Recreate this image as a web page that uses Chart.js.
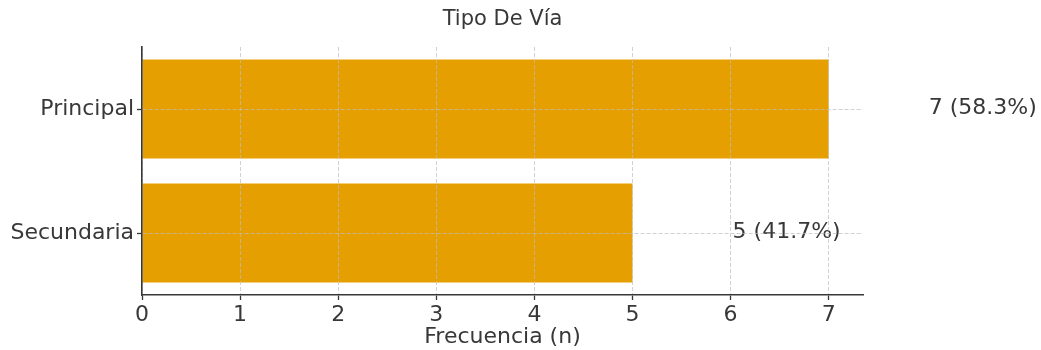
<!DOCTYPE html>
<html>
<head>
<meta charset="utf-8">
<script src="https://cdn.jsdelivr.net/npm/chart.js@4"></script>
<style>
  html, body { margin: 0; padding: 0; background: #ffffff; }
  #wrap { width: 1041px; height: 350px; }
</style>
</head>
<body>
<div id="wrap"><canvas id="c" width="1041" height="350"></canvas></div>
<script>
// Road type frequencies
const categories = ['Principal', 'Secundaria'];
const counts = [7, 5];
const xTickValues = [0, 1, 2, 3, 4, 5, 6, 7];
const chartTitle = 'Tipo De Vía';
const xAxisTitle = 'Frecuencia (n)';

const total = counts.reduce((a, b) => a + b, 0);
const valueLabels = counts.map(v => v + ' (' + (v / total * 100).toFixed(1) + '%)');

const FONT = 'DejaVu Sans';
const TEXT = '#383838';
const GRID = 'rgba(190,190,190,0.7)';

// Title centred over the plot area
const titlePlugin = {
  id: 'plotTitle',
  afterDraw(chart) {
    const { ctx, chartArea } = chart;
    ctx.save();
    ctx.font = '21px "' + FONT + '"';
    ctx.fillStyle = TEXT;
    ctx.textAlign = 'center';
    ctx.textBaseline = 'middle';
    ctx.fillText(chartTitle, (chartArea.left + chartArea.right) / 2, 20);
    ctx.restore();
  }
};

// "n (p%)" annotations placed one unit beyond each bar end
const valueLabelPlugin = {
  id: 'valueLabels',
  afterDatasetsDraw(chart) {
    const { ctx, scales } = chart;
    const meta = chart.getDatasetMeta(0);
    ctx.save();
    ctx.font = '22px "' + FONT + '"';
    ctx.fillStyle = TEXT;
    ctx.textAlign = 'left';
    ctx.textBaseline = 'middle';
    meta.data.forEach((bar, i) => {
      const x = scales.x.getPixelForValue(counts[i] + 1) + 2;
      ctx.fillText(valueLabels[i], x, bar.y - 1);
    });
    ctx.restore();
  }
};

new Chart(document.getElementById('c'), {
  type: 'bar',
  data: {
    labels: categories,
    datasets: [{
      data: counts,
      backgroundColor: '#E69F00',
      borderWidth: 0,
      barPercentage: 0.8,
      categoryPercentage: 1.0
    }]
  },
  options: {
    indexAxis: 'y',
    responsive: false,
    devicePixelRatio: 1,
    animation: false,
    layout: { padding: { left: 0, right: 178, top: 47, bottom: 0 } },
    plugins: {
      legend: { display: false },
      tooltip: { enabled: false },
      title: { display: false }
    },
    scales: {
      x: {
        type: 'linear',
        min: 0,
        max: 7.35,
        afterBuildTicks(scale) {
          scale.ticks = xTickValues.map(v => ({ value: v }));
        },
        afterFit(scale) { scale.height = 55; },
        ticks: {
          color: TEXT,
          font: { family: FONT, size: 22 },
          padding: 2,
          maxRotation: 0,
          autoSkip: false
        },
        grid: {
          color: GRID,
          lineWidth: 1,
          z: 1,
          tickLength: 5,
          tickColor: TEXT,
          tickWidth: 1.3,
          tickBorderDash: []
        },
        border: { display: true, color: TEXT, width: 1.6, dash: [4, 2], z: 2 },
        title: {
          display: true,
          text: xAxisTitle,
          color: TEXT,
          font: { family: FONT, size: 22 },
          padding: { top: 0, bottom: 0 }
        }
      },
      y: {
        type: 'category',
        offset: true,
        afterFit(scale) { scale.width = 142; },
        ticks: {
          color: TEXT,
          font: { family: FONT, size: 22 },
          padding: 3
        },
        grid: {
          offset: false,
          color: GRID,
          lineWidth: 1,
          z: 1,
          tickLength: 5,
          tickColor: TEXT,
          tickWidth: 1.3,
          tickBorderDash: []
        },
        border: { display: true, color: TEXT, width: 1.6, dash: [4, 2], z: 2 }
      }
    }
  },
  plugins: [titlePlugin, valueLabelPlugin]
});
</script>
</body>
</html>
